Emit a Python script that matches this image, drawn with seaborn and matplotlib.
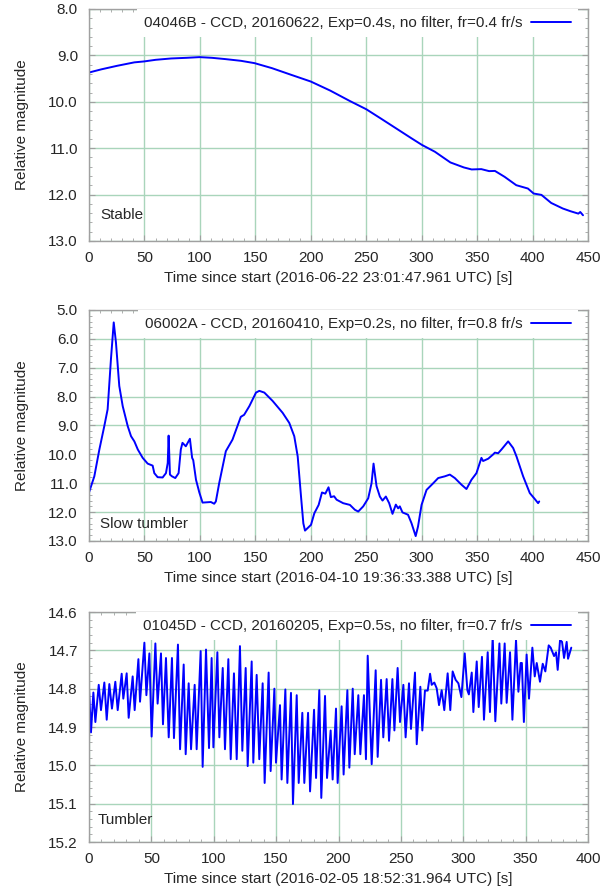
import matplotlib
matplotlib.use("Agg")
import matplotlib.pyplot as plt
import seaborn as sns
import pandas as pd
from matplotlib.ticker import MultipleLocator, AutoMinorLocator, FormatStrFormatter

# ---------------- Data ----------------
# Panel 1: 04046B (Stable)
t1 = [0.0, 11.2, 25.2, 40.9, 49.7, 60.1, 74.1, 88.1, 99.7, 110.8, 123.1, 137.1, 149.3,
      165.0, 182.5, 200.0, 217.5, 235.0, 250.0, 262.9, 276.9, 290.9, 300.3, 311.9, 325.9,
      338.1, 345.1, 353.8, 360.8, 366.1, 374.8, 385.3, 395.8, 401.0, 408.0, 416.8, 427.3,
      434.3, 441.3, 443.0, 445.5]
m1 = [9.369, 9.30, 9.225, 9.15, 9.13, 9.095, 9.066, 9.052, 9.037, 9.052, 9.08, 9.117, 9.167,
      9.275, 9.42, 9.563, 9.758, 9.98, 10.16, 10.356, 10.572, 10.788, 10.93, 11.076, 11.307,
      11.415, 11.458, 11.451, 11.494, 11.49, 11.617, 11.797, 11.869, 11.977, 12.006, 12.18, 12.30,
      12.359, 12.41, 12.375, 12.445]

# Panel 2: 06002A (Slow tumbler)
t2 = [0.0, 4.8, 9.3, 13.8, 16.8, 19.8, 22.3, 24.3, 27.3, 30.4, 34.9, 37.9, 40.9, 44.0, 48.4,
      52.9, 57.4, 58.9, 61.9, 66.4, 69.4, 71.0, 71.8, 73.0, 74.8, 77.8, 80.8, 82.8, 84.3, 87.3,
      91.0, 93.0, 94.0, 96.5, 99.5, 102.4, 109.9, 112.9, 114.4, 117.4, 123.4, 129.4, 136.9,
      139.9, 144.6, 150.6, 153.6, 158.1, 165.6, 174.6, 180.6, 185.1, 188.2, 191.2, 193.3,
      194.8, 200.2, 203.2, 207.1, 210.1, 213.1, 216.0, 218.1, 221.0, 223.3, 229.2, 235.3,
      239.8, 242.8, 247.3, 251.8, 254.8, 256.6, 259.3, 262.3, 264.7, 267.7, 270.7, 273.7,
      276.7, 278.8, 280.3, 282.7, 287.7, 290.8, 294.6, 296.7, 299.9, 304.4, 310.4, 314.9,
      320.9, 325.4, 329.9, 335.9, 340.4, 344.9, 349.4, 353.9, 355.4, 360.0, 364.5, 366.0,
      369.0, 372.0, 378.0, 382.5, 385.5, 391.5, 394.5, 397.5, 402.1, 405.0, 406.0]
m2 = [11.32, 10.76, 9.84, 9.02, 8.44, 6.70, 5.43, 6.12, 7.63, 8.33, 9.02, 9.37, 9.55, 9.83, 10.12,
      10.32, 10.39, 10.65, 10.79, 10.80, 10.65, 10.30, 9.35, 10.70, 10.76, 10.82, 10.65, 9.83, 9.60, 9.72,
      9.46, 10.12, 10.20, 10.88, 11.32, 11.67, 11.65, 11.71, 11.63, 11.00, 9.89, 9.49, 8.70,
      8.63, 8.33, 7.86, 7.80, 7.86, 8.15, 8.56, 8.91, 9.37, 10.07, 11.46, 12.39,
      12.64, 12.44, 12.04, 11.75, 11.32, 11.36, 11.14, 11.48, 11.45, 11.57, 11.69, 11.75,
      11.92, 11.98, 11.80, 11.52, 11.00, 10.32, 11.10, 11.46, 11.60, 11.46, 11.69, 12.06,
      11.74, 11.87, 11.80, 12.01, 12.09, 12.38, 12.83, 12.50, 11.75, 11.23, 11.00, 10.82,
      10.76, 10.70, 10.82, 11.05, 11.20, 10.88, 10.65, 10.12, 10.23, 10.15, 10.00, 9.94,
      9.96, 9.83, 9.55, 9.78, 10.07, 10.76, 11.05, 11.34, 11.55, 11.69, 11.63]

# Panel 3: 01045D (Tumbler)
t3 = [0.0, 1.6, 3.5, 5.1, 7.8, 9.6, 12.3, 14.2, 16.3, 18.4, 21.1, 23.0, 26.2, 27.5, 30.2, 31.8,
      35.0, 36.6, 39.6, 40.9, 44.4, 46.0, 48.4, 50.2, 53.2, 55.0, 57.7, 59.3, 61.7, 63.9, 66.5,
      68.1, 71.3, 73.0, 75.9, 77.5, 79.9, 81.8, 84.7, 86.3, 89.5, 91.1, 93.8, 96.2, 98.3, 99.7,
      102.9, 104.5, 107.2, 109.0, 111.7, 113.6, 116.2, 118.4, 121.0, 122.9, 125.6, 127.2, 130.4,
      131.7, 134.4, 136.5, 139.2, 140.8, 144.0, 145.6, 148.6, 149.9, 153.1, 154.4, 157.4, 159.0,
      161.9, 163.5, 166.5, 168.1, 171.0, 172.6, 175.6, 177.2, 180.4, 182.0, 184.6, 186.2, 189.2,
      190.8, 193.7, 195.3, 198.0, 199.3, 202.5, 204.1, 207.1, 208.7, 211.4, 213.0, 215.9, 217.5,
      220.4, 222.0, 223.4, 226.6, 229.8, 231.4, 234.1, 235.9, 238.6, 240.5, 243.2, 244.8, 247.4,
      249.3, 252.0, 253.8, 256.5, 258.1, 261.3, 262.7, 265.6, 267.2, 269.3, 271.5, 273.4, 274.7,
      276.8, 278.7, 280.6, 282.7, 284.8, 287.5, 289.6, 291.5, 293.9, 296.1, 298.5, 301.2, 303.3,
      304.5, 306.8, 308.1, 310.8, 312.4, 315.0, 316.6, 319.6, 321.4, 323.6, 325.7, 329.0, 330.5,
      333.2, 334.8, 337.5, 339.4, 342.3, 344.2, 346.0, 347.0, 348.6, 350.8, 352.7, 355.4, 357.3,
      358.9, 361.5, 363.7, 365.8, 368.5, 370.1, 372.8, 374.4, 375.7, 377.6, 379.2, 380.8, 382.9,
      384.0, 386.6]
m3 = [14.800, 14.914, 14.810, 14.887, 14.790, 14.856, 14.784, 14.881, 14.788, 14.852, 14.782, 14.856,
      14.761, 14.826, 14.760, 14.876, 14.768, 14.856, 14.723, 14.834, 14.680, 14.817, 14.708, 14.925,
      14.682, 14.839, 14.708, 14.893, 14.720, 14.927, 14.720, 14.929, 14.685, 14.958, 14.737, 14.971,
      14.786, 14.958, 14.790, 14.958, 14.702, 15.004, 14.698, 14.955, 14.720, 14.953, 14.705, 14.927,
      14.746, 14.958, 14.723, 14.984, 14.760, 14.984, 14.689, 14.962, 14.746, 15.002, 14.729, 14.993,
      14.764, 14.984, 14.786, 15.046, 14.758, 15.015, 14.800, 14.993, 14.843, 15.037, 14.802, 15.046,
      14.811, 15.101, 14.817, 15.046, 14.863, 15.046, 14.863, 15.068, 14.855, 15.033, 14.804, 15.085,
      14.819, 15.033, 14.909, 15.037, 14.852, 15.046, 14.846, 15.024, 14.804, 15.006, 14.800, 14.971,
      14.817, 14.971, 14.817, 14.984, 14.714, 14.997, 14.752, 14.978, 14.777, 14.927, 14.775, 14.936,
      14.775, 14.909, 14.746, 14.887, 14.790, 14.927, 14.786, 14.905, 14.758, 14.945, 14.795, 14.909,
      14.805, 14.805, 14.761, 14.790, 14.784, 14.799, 14.843, 14.804, 14.856, 14.760, 14.856, 14.755,
      14.777, 14.786, 14.822, 14.708, 14.804, 14.815, 14.758, 14.861, 14.729, 14.848, 14.717, 14.881,
      14.705, 14.861, 14.664, 14.885, 14.682, 14.839, 14.682, 14.837, 14.705, 14.881, 14.673, 14.808,
      14.733, 14.733, 14.887, 14.711, 14.826, 14.693, 14.768, 14.733, 14.782, 14.735, 14.755, 14.687,
      14.693, 14.715, 14.705, 14.751, 14.673, 14.678, 14.720, 14.678, 14.722, 14.693]

legend_labels = ["04046B - CCD, 20160622, Exp=0.4s, no filter, fr=0.4 fr/s",
                 "06002A - CCD, 20160410, Exp=0.2s, no filter, fr=0.8 fr/s",
                 "01045D - CCD, 20160205, Exp=0.5s, no filter, fr=0.7 fr/s"]
xlabels = ["Time since start (2016-06-22 23:01:47.961 UTC) [s]",
           "Time since start (2016-04-10 19:36:33.388 UTC) [s]",
           "Time since start (2016-02-05 18:52:31.964 UTC) [s]"]
class_labels = ["Stable", "Slow tumbler", "Tumbler"]
ylims = [(13.0, 8.0), (13.0, 5.0), (15.2, 14.6)]
ystep = [1.0, 1.0, 0.1]
xlims = [(0, 450), (0, 450), (0, 400)]

# ---------------- Style ----------------
sns.set_style("ticks")
plt.rcParams['font.family'] = ['Liberation Sans', 'DejaVu Sans']
plt.rcParams['font.size'] = 11

TXT = '#262626'
GRID = '#a9d5bb'
BORDER = '#a0a0a0'

fig = plt.figure(figsize=(6.08, 8.88), dpi=100)
W, H = 608, 888
rects_px = [(89, 9, 241), (89, 310, 541), (89, 612, 842)]  # left, top, bottom
label_y = [0.112, 0.072, 0.097]
label_x = [0.023, 0.023, 0.017]

series = [(t1, m1), (t2, m2), (t3, m3)]
for i, ((t, m), (lx, top, bot)) in enumerate(zip(series, rects_px)):
    hpx = bot - top
    ax = fig.add_axes([lx / W, (H - bot) / H, 499 / W, hpx / H])
    df = pd.DataFrame({"t": t, "mag": m})
    sns.lineplot(data=df, x="t", y="mag", ax=ax, color='#0000ff', lw=1.4,
                 estimator=None, sort=False, label=legend_labels[i])
    ax.set_xlim(*xlims[i])
    ax.set_ylim(*ylims[i])
    ax.xaxis.set_major_locator(MultipleLocator(50))
    ax.xaxis.set_minor_locator(AutoMinorLocator(5))
    ax.yaxis.set_major_locator(MultipleLocator(ystep[i]))
    ax.yaxis.set_minor_locator(AutoMinorLocator(5))
    ax.yaxis.set_major_formatter(FormatStrFormatter('%.1f'))
    ax.set_axisbelow(True)
    ax.grid(True, which='major', color=GRID, lw=1.0)
    for s in ax.spines.values():
        s.set_visible(True)
        s.set_color(BORDER)
        s.set_linewidth(1.0)
    ax.tick_params(which='both', direction='in', top=True, right=True, color=BORDER,
                   labelcolor=TXT, labelsize=11)
    ax.tick_params(which='major', length=4, width=0.8)
    ax.tick_params(which='minor', length=2.5, width=0.6)
    ax.tick_params(axis='x', which='major', pad=7)
    ax.tick_params(axis='y', which='major', pad=8)

    ax.set_xlabel(xlabels[i], color=TXT, fontsize=11)
    ax.set_ylabel("Relative magnitude", color=TXT, fontsize=11)
    ax.xaxis.label.set_va('center')
    ax.yaxis.label.set_va('center')
    ax.xaxis.set_label_coords(0.5, -37 / hpx)
    ax.yaxis.set_label_coords((22 - 89) / 499, 0.5)

    ax.text(label_x[i], label_y[i], class_labels[i], transform=ax.transAxes,
            ha='left', va='center', color=TXT, fontsize=11)

    leg = ax.legend(loc='upper right', bbox_to_anchor=(1 - 10 / 499, 1.0),
                    borderaxespad=0, borderpad=0.45, markerfirst=False,
                    handlelength=2.6, handletextpad=0.6, frameon=True,
                    fancybox=False, framealpha=1.0, fontsize=11)
    leg.get_frame().set_facecolor('white')
    leg.get_frame().set_edgecolor('none')
    for txt in leg.get_texts():
        txt.set_color(TXT)

fig.savefig("out.png", dpi=100)
